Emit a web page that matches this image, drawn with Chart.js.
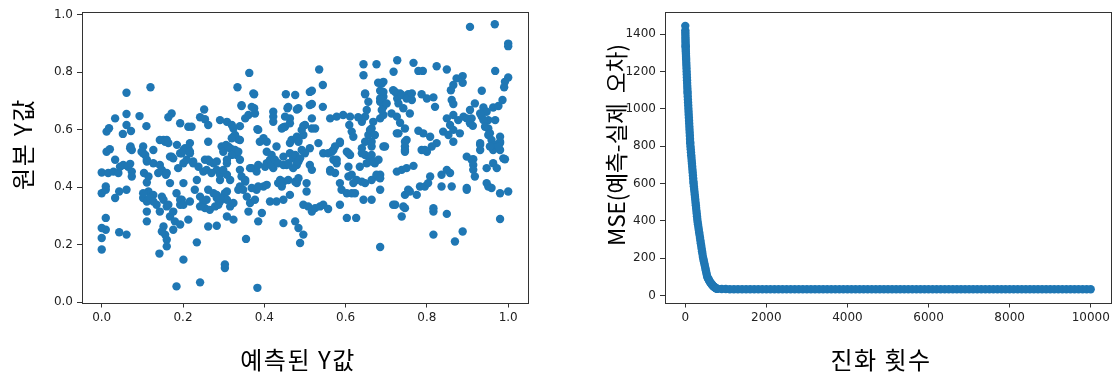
<!DOCTYPE html>
<html><head><meta charset="utf-8">
<script src="https://cdn.jsdelivr.net/npm/chart.js@4.4.0/dist/chart.umd.min.js"></script>
<style>
html,body{margin:0;padding:0;background:#fff;width:1120px;height:386px;overflow:hidden}
canvas{position:absolute;top:0}
#c1{left:0}
#c2{left:560px}
</style></head><body>
<canvas id="c1" width="560" height="386"></canvas>
<canvas id="c2" width="560" height="386"></canvas>
<script>
// ---- Left chart: predicted vs original values ----
const scatterPairs = [
[.012,.593],[.018,.605],[.033,.639],[.061,.728],[.061,.654],[.061,.616],[.072,.595],[.052,.585],[.093,.647],[.11,.612],[.12,.747],[.071,.541],[.012,.523],[.02,.532],[.152,.564],[.16,.564],[.172,.656],[.164,.643],[.193,.622],[.213,.61],[.221,.61],[.185,.547],[.205,.535],[.213,.535],[.252,.670],[.242,.643],[.254,.636],[.262,.616],[.262,.558],[.295,.541],[.306,.547],[.291,.633],[.308,.627],[.32,.616],[.334,.747],[.344,.682],[.363,.797],[.375,.723],[.375,.674],[.361,.651],[.353,.639],[.34,.612],[.324,.604],[.383,.601],[.324,.575],[.336,.566],[.398,.570],[.406,.558],[.422,.662],[.422,.645],[.422,.627],[.453,.723],[.476,.72],[.457,.674],[.463,.639],[.451,.610],[.484,.674],[.43,.541],[.467,.564],
[.906,.957],[.967,.966],[1.0,.899],[1.0,.89],[.535,.809],[.544,.755],[.517,.735],[.517,.689],[.544,.679],[.644,.827],[.676,.827],[.727,.841],[.767,.832],[.779,.804],[.79,.804],[.824,.820],[.849,.809],[.644,.789],[.718,.801],[.873,.778],[.888,.786],[.888,.763],[.865,.755],[.859,.737],[.968,.804],[1.0,.781],[.992,.766],[.99,.747],[.935,.735],[.680,.763],[.693,.766],[.685,.735],[.693,.714],[.717,.737],[.734,.726],[.727,.708],[.754,.723],[.763,.703],[.648,.723],[.656,.697],[.685,.697],[.693,.679],[.787,.723],[.8,.708],[.816,.712],[.82,.679],[.861,.703],[.865,.689],[.986,.703],[.918,.691],[.939,.677],[.935,.645],[.963,.677],[.976,.682],[.947,.662],[.951,.633],[.951,.604],[.955,.587],[.968,.633],[.906,.668],[.91,.639],[.906,.622],[.913,.613],[.849,.639],[.865,.651],[.877,.633],[.89,.645],[.898,.639],[.857,.616],[.865,.599],[.881,.587],[.713,.656],[.726,.645],[.734,.624],[.746,.604],[.685,.639],[.693,.651],[.652,.668],[.648,.645],[.64,.627],[.562,.639],[.578,.645],[.594,.651],[.611,.645],[.631,.643],[.609,.616],[.615,.593],[.619,.575],[.664,.604],[.656,.581],[.648,.558],[.64,.535],[.693,.541],[.517,.639],[.496,.613],[.517,.604],[.496,.581],[.484,.564],[.447,.608],[.533,.553],[.545,.518],[.557,.518],[.586,.553],[.603,.523],[.73,.587],[.75,.564],[.779,.596],[.791,.587],[.808,.575],[.824,.553],[.812,.541],[.8,.523],[.84,.593],[.853,.581],[.865,.558],[.931,.547],[.959,.541],[.98,.553],[.98,.575],[.898,.506],[.914,.497],[.988,.5],
[0,.183],[0,.223],[.01,.252],[.01,.293],[0,.258],[.043,.243],[.061,.235],[0,.379],[.01,.391],[0,.451],[.016,.449],[.01,.402],[.033,.495],[.029,.454],[.041,.449],[.033,.362],[.043,.385],[.061,.391],[.053,.477],[.07,.481],[.074,.454],[.074,.529],[.102,.518],[.111,.489],[.104,.449],[.115,.437],[.111,.416],[.127,.483],[.143,.477],[.148,.46],[.139,.449],[.158,.443],[.102,.362],[.111,.35],[.111,.315],[.111,.281],[.115,.385],[.127,.373],[.135,.339],[.143,.315],[.148,.367],[.16,.333],[.152,.263],[.156,.235],[.16,.217],[.16,.194],[.142,.169],[.168,.298],[.176,.315],[.18,.281],[.176,.252],[.148,.246],[.184,.055],[.201,.148],[.172,.506],[.184,.379],[.197,.356],[.193,.339],[.213,.287],[.193,.27],[.201,.414],[.234,.208],[.242,.069],[.201,.483],[.209,.495],[.197,.518],[.217,.518],[.225,.483],[.238,.471],[.25,.454],[.229,.391],[.242,.367],[.25,.35],[.254,.327],[.266,.321],[.279,.333],[.287,.339],[.262,.263],[.283,.266],[.262,.391],[.275,.379],[.283,.362],[.291,.35],[.262,.495],[.275,.483],[.283,.46],[.291,.443],[.308,.483],[.308,.443],[.316,.425],[.303,.379],[.308,.356],[.316,.333],[.324,.345],[.308,.298],[.324,.287],[.303,.131],[.303,.119],[.324,.529],[.332,.512],[.34,.495],[.34,.46],[.344,.437],[.353,.419],[.34,.402],[.357,.367],[.365,.345],[.361,.315],[.355,.22],[.369,.466],[.381,.454],[.381,.391],[.377,.356],[.385,.281],[.394,.31],[.383,.05],[.398,.402],[.406,.408],[.406,.483],[.414,.495],[.422,.466],[.434,.414],[.447,.419],[.414,.35],[.43,.35],[.447,.275],[.476,.281],[.463,.373],[.447,.506],[.463,.518],[.471,.5],[.455,.477],[.48,.477],[.48,.414],
[.476,.512],[.484,.489],[.447,.356],[.476,.419],[.484,.431],[.484,.258],[.496,.235],[.488,.206],[.504,.414],[.504,.385],[.512,.477],[.517,.46],[.496,.339],[.508,.333],[.517,.315],[.525,.327],[.537,.333],[.545,.339],[.557,.324],[.57,.529],[.562,.46],[.574,.449],[.578,.495],[.586,.414],[.59,.391],[.603,.379],[.615,.379],[.586,.339],[.603,.293],[.626,.293],[.607,.471],[.607,.437],[.615,.443],[.627,.425],[.619,.414],[.64,.419],[.648,.414],[.623,.379],[.644,.356],[.664,.356],[.607,.518],[.611,.512],[.635,.471],[.648,.512],[.66,.5],[.672,.483],[.676,.437],[.685,.443],[.685,.391],[.685,.192],[.717,.339],[.726,.454],[.738,.46],[.75,.466],[.767,.474],[.746,.529],[.738,.298],[.746,.327],[.746,.373],[.754,.391],[.758,.385],[.775,.373],[.783,.402],[.795,.402],[.803,.414],[.808,.437],[.787,.529],[.795,.529],[.816,.315],[.849,.307],[.816,.235],[.836,.443],[.836,.402],[.849,.46],[.857,.449],[.861,.402],[.869,.211],[.888,.246],[.91,.495],[.914,.477],[.914,.46],[.918,.437],[.898,.397],[.898,.391],[.947,.414],[.951,.402],[.959,.397],[.947,.466],[.963,.483],[.972,.466],[.992,.497],[.98,.379],[1.0,.385],[.98,.289],[.931,.529],[.963,.529],[.98,.529],
[.07,.535],[.102,.541],[.098,.523],[.107,.512],[.111,.495],[.127,.529],[.045,.471],[.065,.471],[.074,.437],[.143,.564],[.156,.558],[.164,.553],[.168,.506],[.176,.5],[.193,.518],[.201,.529],[.16,.449],[.168,.414],[.188,.466],[.225,.489],[.254,.495],[.266,.489],[.283,.489],[.234,.425],[.258,.46],[.27,.449],[.291,.425],[.299,.46],[.299,.523],[.311,.541],[.217,.553],[.217,.523],[.102,.379],[.119,.362],[.127,.35],[.152,.356],[.164,.339],[.193,.356],[.201,.339],[.217,.35],[.242,.333],[.258,.356],[.283,.373],[.291,.362],[.308,.385],
[.373,.726],[.344,.685],[.369,.679],[.377,.656],[.512,.731],[.459,.679],[.48,.67],[.512,.685],[.451,.645],[.463,.622],[.443,.604],[.5,.616],[.525,.604],[.492,.599],[.48,.575],[.512,.535],[.5,.518],[.488,.5],[.48,.483],[.471,.466],[.648,.726],[.586,.558],[.574,.541],[.566,.523],[.57,.495],[.578,.483],[.562,.454],[.64,.518],[.664,.541],[.664,.489],[.652,.483],[.664,.425],[.328,.581],[.32,.570],[.34,.564],[.385,.599],[.398,.564],[.389,.558],[.316,.535],[.328,.529],[.336,.523],[.32,.512],[.308,.495],[.353,.425],[.336,.391],[.348,.391],[.369,.397],[.385,.402],[.365,.466],[.385,.477],[.402,.471],[.418,.477],[.406,.523],[.418,.512],[.426,.495],[.434,.483],[.447,.477],[.459,.483],[.463,.553],[.484,.558],[.492,.529],[.439,.425],[.459,.425],[.443,.402],
[.689,.76],[.693,.731],[.685,.708],[.701,.691],[.689,.668],[.722,.731],[.738,.72],[.75,.708],[.73,.691],[.742,.674],[.763,.726],[.758,.656],[.931,.656],[.939,.633],[.943,.61],[.951,.581],[.959,.564],[.968,.547],[.98,.558],[.976,.541],[.931,.553],[.955,.541],[.668,.627],[.66,.599],[.672,.581],[.664,.558],[.697,.541],[.726,.587],[.746,.558],[.746,.541],[.746,.523],[.664,.512],[.668,.489],[.681,.495],[.676,.443],[.685,.431],[.722,.339],[.742,.333],[.816,.327]
];
const predictedY = scatterPairs.map(p => p[0]);
const originalY = scatterPairs.map(p => p[1]);
const leftXTicks = [0, 0.2, 0.4, 0.6, 0.8, 1.0];
const leftYTicks = [0, 0.2, 0.4, 0.6, 0.8, 1.0];

// ---- Right chart: MSE over evolution iterations ----
const iterations = [
0,1,2,3,4,5,6,7,8,9,10,12,14,16,18,20,22,25,28,31,34,37,40,43,46,49,52,55,57,
61,65,69,73,77,81,85,89,93,97,101,105,109,113,117,121,123,
129,135,141,147,153,159,165,171,177,183,189,195,201,205,
212,219,226,233,240,247,254,261,268,275,282,289,296,303,
313,323,333,343,353,363,373,383,393,403,413,423,434,
446,458,470,482,494,506,518,530,541,
556,571,586,601,616,631,650,665,680,695,710,725,740,755,770,780,800,
900,1000,1100,1200,1300,1400,1500,1600,1700,1800,1900,2000,2100,2200,2300,2400,2500,2600,2700,2800,2900,3000,3100,3200,3300,3400,3500,3600,3700,3800,3900,4000,4100,4200,4300,4400,4500,4600,4700,4800,4900,5000,5100,5200,5300,5400,5500,5600,5700,5800,5900,6000,6100,6200,6300,6400,6500,6600,6700,6800,6900,7000,7100,7200,7300,7400,7500,7600,7700,7800,7900,8000,8100,8200,8300,8400,8500,8600,8700,8800,8900,9000,9100,9200,9300,9400,9500,9600,9700,9800,9900,9999
];
const mseValues = [
1444,1420,1408,1396,1385,1374,1363,1352,1341,1335,1328,1316,1305,1294,1283,1272,1261,1245,1230,1215,1199,1184,1168,1153,1138,1122,1107,1092,1082,
1066,1049,1033,1017,1000,984,968,952,936,920,903,887,871,855,838,822,814,
798,783,767,751,736,720,705,689,673,658,642,626,610,600,
585,570,556,541,527,512,497,483,468,453,439,424,410,395,
381,366,352,337,323,309,294,280,266,251,237,223,207,
195,183,171,159,147,135,123,111,100,
93,87,81,75,70,65,60,56,52,49,46,43,41,39,37,36,35,
34,34,33,33,33,33,33,33,33,33,33,33,33,33,33,33,33,33,33,33,33,33,33,33,33,33,33,33,33,33,33,33,33,33,33,33,33,33,33,33,33,33,33,33,33,33,33,33,33,33,33,33,33,33,33,33,33,33,33,33,33,33,33,33,33,33,33,33,33,33,33,33,33,33,33,33,33,33,33,33,33,33,33,33,33,33,33,33,33,33,33,33
];
const rightXTicks = [0, 2000, 4000, 6000, 8000, 10000];
const rightYTicks = [0, 200, 400, 600, 800, 1000, 1200, 1400];

const BLUE = '#1f77b4';
const TICK_FONT = {family: 'DejaVu Sans', size: 12};
const KO_FONT = 'Noto Sans CJK KR';
const AXIS_COLOR = '#333333';

// per-title letter spacing and offset
const TITLE_STYLE = {
  c1: {x: {sp: '1.5px', dx: -7, dy: 0}, y: {sp: '1.5px', dx: 0, dy: -13}},
  c2: {x: {sp: '1.5px', dx: -7, dy: 0}, y: {sp: '0px', dx: 0, dy: -12}}
};
const origDrawTitle = Chart.LinearScale.prototype.drawTitle;
Chart.LinearScale.prototype.drawTitle = function () {
  const ctx = this.ctx;
  const st = (TITLE_STYLE[this.chart.canvas.id] || {})[this.id] || {sp: '0px', dx: 0, dy: 0};
  ctx.save();
  ctx.translate(st.dx, st.dy);
  ctx.letterSpacing = st.sp;
  origDrawTitle.apply(this, arguments);
  ctx.restore();
};

const boxPlugin = {
  id: 'box',
  afterDatasetsDraw(chart) {
    const {ctx, chartArea: {left, top, right, bottom}} = chart;
    ctx.save();
    ctx.strokeStyle = AXIS_COLOR;
    ctx.lineWidth = 1;
    ctx.strokeRect(Math.round(left) + 0.5, Math.round(top) + 0.5, Math.round(right - left), Math.round(bottom - top));
    ctx.restore();
  }
};

function gridOpts() {
  return {display: true, drawOnChartArea: false, drawTicks: true, tickLength: 5, tickColor: AXIS_COLOR, lineWidth: 1};
}

function makeChart(id, xs, ys, cfg) {
  const pts = xs.map((x, i) => ({x: x, y: ys[i]}));
  return new Chart(document.getElementById(id), {
    type: 'scatter',
    data: {datasets: [{data: pts, backgroundColor: BLUE, borderColor: BLUE, borderWidth: 0, pointRadius: 4.2, pointHoverRadius: 4.2}]},
    options: {
      responsive: false, animation: false, devicePixelRatio: 1, events: [],
      layout: {padding: {left: 0, top: 11.5, right: cfg.padRight, bottom: 0}},
      plugins: {legend: {display: false}, tooltip: {enabled: false}},
      scales: {
        x: {
          type: 'linear', min: cfg.xMin, max: cfg.xMax,
          afterBuildTicks: s => { s.ticks = cfg.xTicks.map(v => ({value: v})); },
          afterFit: s => { s.height = 83.5; },
          ticks: {font: TICK_FONT, color: '#222', padding: 3, maxRotation: 0, callback: cfg.xFmt},
          grid: gridOpts(), border: {display: false},
          title: {display: true, text: cfg.xTitle, font: {family: KO_FONT, size: 24}, color: '#000', padding: {top: 0, bottom: 12}}
        },
        y: {
          type: 'linear', min: cfg.yMin, max: cfg.yMax,
          afterBuildTicks: s => { s.ticks = cfg.yTicks.map(v => ({value: v})); },
          afterFit: s => { s.width = cfg.yWidth; },
          ticks: {font: TICK_FONT, color: '#222', padding: 4, callback: cfg.yFmt},
          grid: gridOpts(), border: {display: false},
          title: {display: true, text: cfg.yTitle, font: {family: KO_FONT, size: cfg.yTitleSize}, color: '#000', padding: {top: cfg.yTitlePad, bottom: 0}}
        }
      }
    },
    plugins: [boxPlugin]
  });
}

makeChart('c1', predictedY, originalY, {
  xMin: -0.0485, xMax: 1.0487, yMin: -0.001, yMax: 1.0105,
  xTicks: leftXTicks, yTicks: leftYTicks,
  xFmt: v => Number(v).toFixed(1), yFmt: v => Number(v).toFixed(1),
  xTitle: '예측된 Y값', yTitle: '원본 Y값',
  yWidth: 82, padRight: 32, yTitlePad: 8, yTitleSize: 24
});

makeChart('c2', iterations, mseValues, {
  xMin: -500, xMax: 10500, yMin: -38, yMax: 1521,
  xTicks: rightXTicks, yTicks: rightYTicks,
  xFmt: v => String(v), yFmt: v => String(v),
  xTitle: '진화 횟수', yTitle: 'MSE(예측-실제  오차)',
  yWidth: 105, padRight: 9, yTitlePad: 42.5, yTitleSize: 22.5
});
</script>
</body></html>
